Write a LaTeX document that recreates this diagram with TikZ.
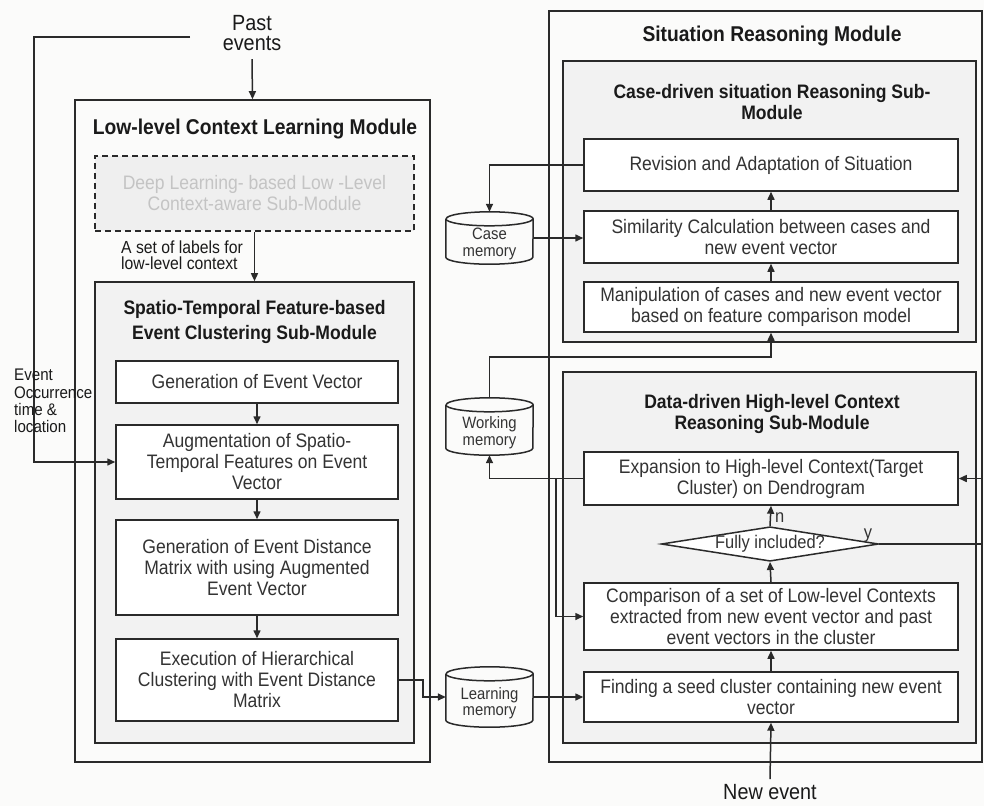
\documentclass[tikz,border=0pt]{standalone}
\usepackage{fontspec}
\setmainfont{Liberation Sans}[FakeStretch=0.9]
\usetikzlibrary{arrows.meta,shapes.geometric,calc}

\definecolor{ink}{HTML}{2A2A2A}
\definecolor{txt}{HTML}{333333}
\definecolor{ttl}{HTML}{1A1A1A}
\definecolor{subfill}{HTML}{F2F2F2}
\definecolor{bg}{HTML}{FBFBFA}
\definecolor{ghost}{HTML}{C4C4C4}
\definecolor{ghostfill}{HTML}{EFEFEF}

\newcommand\fsBody{\fontsize{19.5pt}{21pt}\selectfont}
\newcommand\fsMain{\fontsize{21.4pt}{24pt}\selectfont\bfseries}
\newcommand\fsSub{\fontsize{19.5pt}{21pt}\selectfont\bfseries}
\newcommand\fsCyl{\fontsize{16.5pt}{16.5pt}\selectfont}
\newcommand\fsSide{\fontsize{16.8pt}{17.3pt}\selectfont}
\newcommand\fsLab{\fontsize{17.5pt}{16.5pt}\selectfont}
\newcommand\fsBig{\fontsize{22pt}{20.5pt}\selectfont}
\newcommand\fsDia{\fontsize{18.3pt}{20pt}\selectfont}

% outline of a storage cylinder around a named node
\newcommand\memcyl[1]{%
  \draw[ink, line width=1.5pt]
    ([yshift=-7pt]#1.north west) -- ([yshift=7pt]#1.south west)
    arc[start angle=180, end angle=360, x radius=43.5pt, y radius=7pt]
    -- ([yshift=-7pt]#1.north east)
    arc[start angle=0, end angle=180, x radius=43.5pt, y radius=7pt];
  \draw[ink, line width=1.5pt]
    ([yshift=-7pt]#1.north west)
    arc[start angle=180, end angle=360, x radius=43.5pt, y radius=7pt];
}

\begin{document}
\begin{tikzpicture}[x=1pt, y=-1pt,
  modbox/.style={draw=ink, line width=1.6pt, inner sep=0pt},
  subbox/.style={draw=ink, line width=1.6pt, fill=subfill, inner sep=0pt},
  procbox/.style={draw=ink, line width=1.5pt, fill=white, text=txt,
    font=\fsBody, align=center, inner sep=0pt},
  ghostbox/.style={draw=ink, line width=1.5pt, dash pattern=on 6pt off 4pt,
    fill=ghostfill, text=ghost, font=\fsBody, align=center, inner sep=0pt},
  memnode/.style={inner sep=0pt, minimum width=87pt},
  memtext/.style={text=txt, font=\fsCyl, align=center, inner sep=0pt},
  conn/.style={draw=ink, line width=1.5pt},
  arr/.style={draw=ink, line width=1.5pt, -{Triangle[length=8pt,width=7pt]}},
  maintitle/.style={text=ttl, font=\fsMain, align=center, inner sep=0pt},
  subtitle/.style={text=ttl, font=\fsSub, align=center, inner sep=0pt},
  plain/.style={text=ttl, align=center, inner sep=0pt}
]
\useasboundingbox (0,0) rectangle (984,806);
\fill[bg] (0,0) rectangle (984,806);

% ---------------- Low-level context learning module ----------------
\node[modbox, minimum width=355pt, minimum height=662pt] (lm) at (252.5,431) {};
\node[maintitle] (lmt) at (255,129) {Low-level Context Learning Module};

\node[ghostbox, minimum width=319pt, minimum height=75pt] (dl) at (254.5,193.5)
  {Deep Learning- based Low -Level\\Context-aware Sub-Module};

\node[subbox, minimum width=319pt, minimum height=461pt] (st) at (254.5,512.5) {};
\node[subtitle, font=\fsSub\fontsize{19.5pt}{25pt}\selectfont] (stt) at (254.5,322)
  {Spatio-Temporal Feature-based\\Event Clustering Sub-Module};

\node[procbox, minimum width=282pt, minimum height=42pt] (g1) at (257,382)
  {Generation of Event Vector};
\node[procbox, minimum width=282pt, minimum height=74pt] (g2) at (257,462)
  {Augmentation of Spatio-\\Temporal Features on Event\\Vector};
\node[procbox, minimum width=282pt, minimum height=95pt] (g3) at (257,567.5)
  {Generation of Event Distance\\Matrix with using Augmented\\Event Vector};
\node[procbox, minimum width=282pt, minimum height=82pt] (g4) at (257,680)
  {Execution of Hierarchical\\Clustering with Event Distance\\Matrix};

\draw[arr] (g1.south) -- (g2.north);
\draw[arr] (g2.south) -- (g3.north);
\draw[arr] (g3.south) -- (g4.north);

% inputs of the left module
\node[plain, font=\fsBig] (pe) at (252,33) {Past\\events};
\draw[arr] ([yshift=-8pt]pe.south) -- (lm.north);

\draw[arr] (dl.south) -- (st.north);
\node[plain, font=\fsLab, align=left, anchor=west] (lab) at (121,255)
  {A set of labels for\\low-level context};

\coordinate (pl) at (190,37);
\coordinate (fb) at (34,462);
\draw[arr] (pl) -| (fb) -- (g2.west);
\node[plain, font=\fsSide, align=left, anchor=north west] (occ) at (14,369)
  {Event\\Occurrence\\time \&\\location};

% ---------------- memories ----------------
\node[memnode, minimum height=52pt] (cmem) at (489.5,238) {};
\memcyl{cmem}
\node[memtext] at ([yshift=-6pt]cmem.center) {Case\\memory};

\node[memnode, minimum height=57pt] (wmem) at (489.5,426.5) {};
\memcyl{wmem}
\node[memtext] at ([yshift=-6pt]wmem.center) {Working\\memory};

\node[memnode, minimum height=60pt] (lmem) at (489.5,697) {};
\memcyl{lmem}
\node[memtext] at ([yshift=-6pt]lmem.center) {Learning\\memory};

% ---------------- Situation reasoning module ----------------
\node[modbox, minimum width=433pt, minimum height=751pt] (rm) at (765.5,386.5) {};
\node[maintitle] (rmt) at (772,36) {Situation Reasoning Module};

\node[subbox, minimum width=413pt, minimum height=281pt] (cs) at (769.5,201.5) {};
\node[subtitle] (cst) at (772,102)
  {Case-driven situation Reasoning Sub-\\Module};

\node[procbox, minimum width=374pt, minimum height=52pt] (rev) at (771,165)
  {Revision and Adaptation of Situation};
\node[procbox, minimum width=374pt, minimum height=52pt] (sim) at (771,237)
  {Similarity Calculation between cases and\\new event vector};
\node[procbox, minimum width=374pt, minimum height=50pt] (man) at (771,307)
  {Manipulation of cases and new event vector\\based on feature comparison model};

\draw[arr] (man.north) -- (sim.south);
\draw[arr] (sim.north) -- (rev.south);

\node[subbox, minimum width=413pt, minimum height=371pt] (ds) at (769.5,557.5) {};
\node[subtitle, font=\fsSub\fontsize{19.5pt}{20.5pt}\selectfont] (dst) at (772,414)
  {Data-driven High-level Context\\Reasoning Sub-Module};

\node[procbox, minimum width=374pt, minimum height=53pt] (exp) at (771,478.5)
  {Expansion to High-level Context(Target\\Cluster) on Dendrogram};
\node[diamond, draw=ink, line width=1.5pt, fill=white, aspect=6.3, inner sep=0pt,
  minimum width=214pt, minimum height=34pt, font=\fsDia, text=txt] (fi) at (770,544)
  {Fully included?};
\node[procbox, minimum width=374pt, minimum height=67pt] (comp) at (771,616.5)
  {Comparison of a set of Low-level Contexts\\extracted from new event vector and past\\event vectors in the cluster};
\node[procbox, minimum width=374pt, minimum height=50pt] (find) at (771,697)
  {Finding a seed cluster containing new event\\vector};

\draw[arr] (find.north) -- (comp.south);
\draw[arr] (comp.north) -- (fi.south);
\draw[arr] (fi.north) -- (exp.south);
\node[plain, font=\fsDia, text=txt, anchor=west] (nlab) at (775,518) {n};
\node[plain, font=\fsDia, text=txt] (ylab) at (868,536) {y};

\coordinate (loopx) at (982,478.5);
\draw[arr] (fi.east) -| (loopx) -- (exp.east);

\node[plain, font=\fsBig] (ne) at (770,792) {New event};
\draw[arr] ([yshift=5pt]ne.north) -- (find.south);

% ---------------- connections through the memories ----------------
\draw[arr] (rev.west) -| (cmem.north);
\draw[arr] (cmem.east) -- (cmem.east -| sim.west);
\draw[arr] (wmem.north) -- ++(0pt,41pt) -| (man.south);
\draw[arr] (exp.west) -| (wmem.south);
\coordinate (tap) at (556,478.5);
\draw[arr] (tap) |- (comp.west);
\draw[arr] (g4.east) -- ++(24pt,0pt) |- (lmem.west);
\draw[arr] (lmem.east) -- (lmem.east -| find.west);

\end{tikzpicture}
\end{document}
